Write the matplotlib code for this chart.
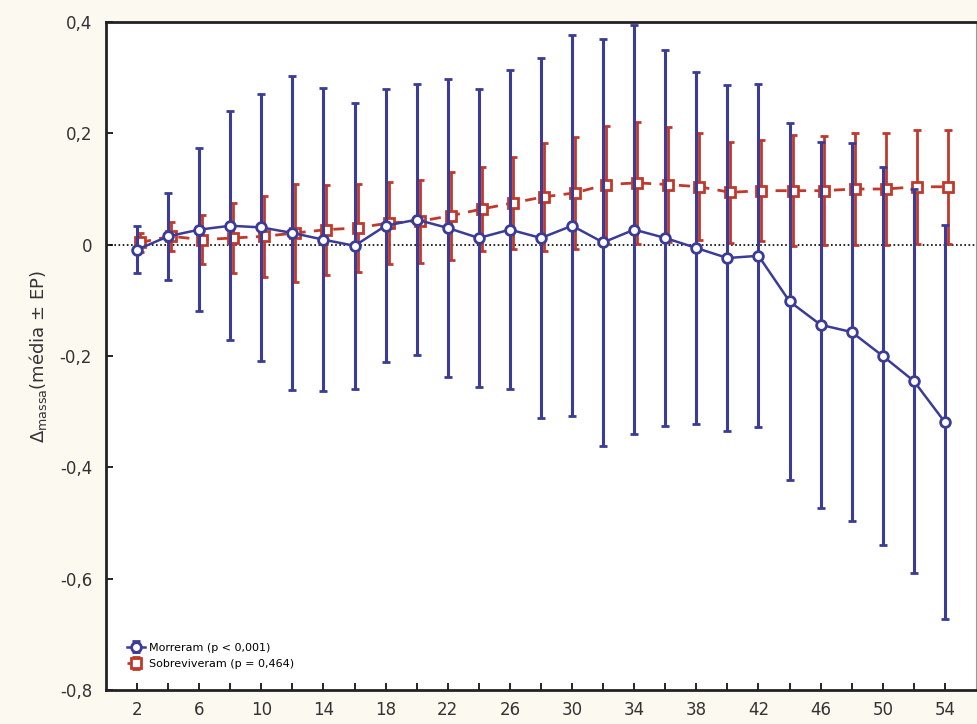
import matplotlib
matplotlib.use("Agg")
import matplotlib.pyplot as plt
import matplotlib.transforms as mtransforms
import numpy as np

semanas = list(range(2, 56, 2))

morreram_media = [-0.009, 0.015, 0.027, 0.034, 0.031, 0.021, 0.009, -0.002, 0.034, 0.045,
                  0.030, 0.012, 0.027, 0.012, 0.034, 0.004, 0.027, 0.012, -0.006, -0.024,
                  -0.020, -0.102, -0.144, -0.157, -0.200, -0.245, -0.319]
morreram_ep = [0.042, 0.078, 0.146, 0.206, 0.240, 0.282, 0.272, 0.257, 0.245, 0.244,
               0.267, 0.267, 0.287, 0.323, 0.342, 0.365, 0.367, 0.338, 0.316, 0.310,
               0.308, 0.320, 0.329, 0.339, 0.340, 0.345, 0.354]

sobrev_media = [0.004, 0.015, 0.009, 0.012, 0.015, 0.021, 0.027, 0.030, 0.039, 0.042,
                0.052, 0.064, 0.075, 0.086, 0.093, 0.108, 0.111, 0.108, 0.104, 0.094,
                0.097, 0.097, 0.097, 0.100, 0.100, 0.104, 0.104]
sobrev_ep = [0.017, 0.026, 0.044, 0.063, 0.073, 0.088, 0.081, 0.079, 0.074, 0.075,
             0.079, 0.076, 0.083, 0.097, 0.100, 0.106, 0.110, 0.104, 0.096, 0.091,
             0.091, 0.100, 0.098, 0.100, 0.100, 0.102, 0.102]

xticks = list(range(2, 56, 4))
yticks = [-0.8, -0.6, -0.4, -0.2, 0.0, 0.2, 0.4]
ytick_labels = ["-0,8", "-0,6", "-0,4", "-0,2", "0", "0,2", "0,4"]

blue = "#3b3b98"
red = "#c0392b"

fig = plt.figure(figsize=(9.78, 7.24), dpi=100, facecolor="#fcf9f1")
ax = fig.add_axes([106/978, 34/724, (976-106)/978, (690-22)/724])
ax.set_facecolor("white")

ax.axhline(0, color="black", linestyle=(0, (1, 1.5)), linewidth=1.2, zorder=1)

# small horizontal display offset for the red series, as in the original
shift = mtransforms.ScaledTranslation(3/100, 0, fig.dpi_scale_trans)
red_cont = ax.errorbar(semanas, sobrev_media, yerr=sobrev_ep, color=red, ecolor=red,
                       linestyle=(0, (4, 3)), linewidth=2, elinewidth=2, capsize=3, capthick=1.5,
                       marker="s", markersize=7, markerfacecolor="white", markeredgecolor=red,
                       markeredgewidth=2, label="Sobreviveram (p = 0,464)", zorder=3)
for art in [red_cont.lines[0]] + list(red_cont.lines[1]) + list(red_cont.lines[2]):
    art.set_transform(ax.transData + shift)

ax.errorbar(semanas, morreram_media, yerr=morreram_ep, color=blue, ecolor=blue,
            linestyle="-", linewidth=1.8, elinewidth=2.2, capsize=3, capthick=1.5,
            marker="o", markersize=7, markerfacecolor="white", markeredgecolor=blue,
            markeredgewidth=2, label="Morreram (p < 0,001)", zorder=4)

ax.set_xlim(0, 56)
ax.set_ylim(-0.8, 0.4)
ax.set_xticks(xticks)
ax.set_xticks(semanas, minor=True)
ax.set_yticks(yticks)
ax.set_yticklabels(ytick_labels)
ax.tick_params(axis="both", direction="in", labelsize=12, colors="black", length=5, width=1.2)
ax.tick_params(axis="x", which="minor", direction="in", length=5, width=1.2)
ax.tick_params(axis="x", pad=8)
ax.tick_params(axis="y", pad=10)
for lab in ax.get_xticklabels() + ax.get_yticklabels():
    lab.set_color("#333333")

for side in ["left", "top", "bottom"]:
    ax.spines[side].set_linewidth(2)
    ax.spines[side].set_color("#222222")
ax.spines["right"].set_linewidth(0.8)
ax.spines["right"].set_color("#999999")

ax.set_ylabel(r"$\Delta_{\mathrm{massa}}$(média ± EP)", fontsize=13, color="#333333", labelpad=8)

handles, labels = ax.get_legend_handles_labels()
leg = ax.legend(handles[::-1], labels[::-1], loc="lower left", frameon=False,
                fontsize=8, handlelength=1.6, handletextpad=0.4, labelspacing=0.55,
                borderaxespad=0.3, bbox_to_anchor=(0.015, 0.02))

fig.savefig("out.png", dpi=100, facecolor=fig.get_facecolor())
